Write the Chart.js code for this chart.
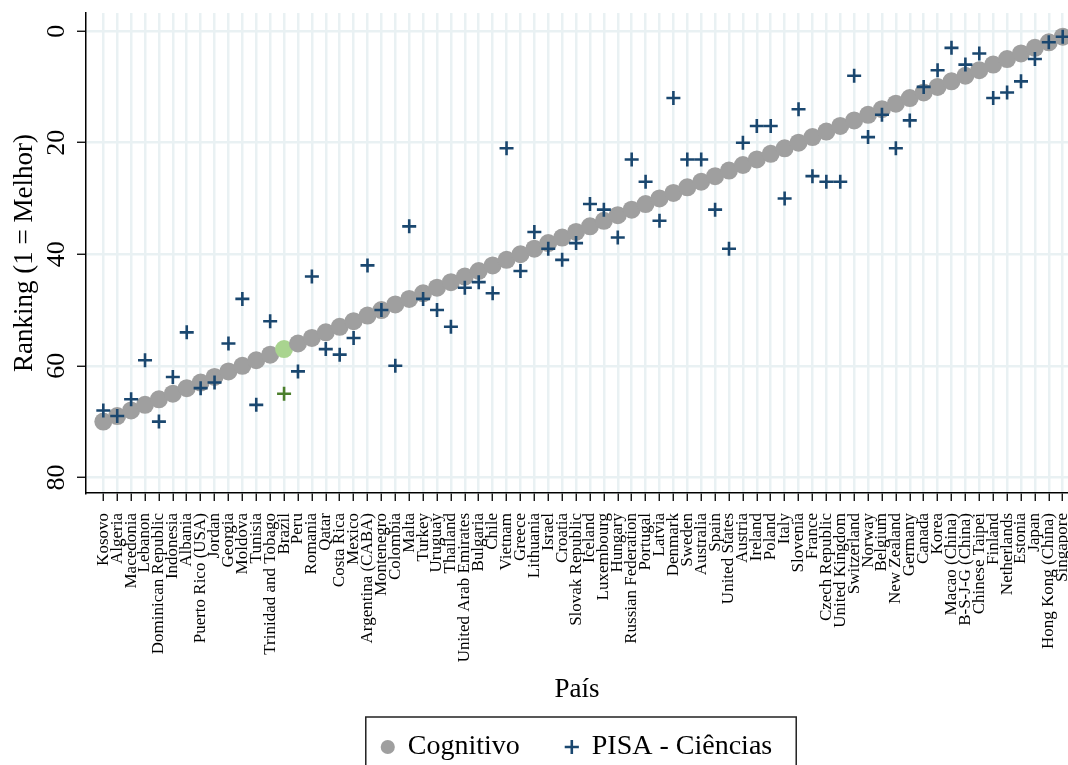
<!DOCTYPE html>
<html>
<head>
<meta charset="utf-8">
<script src="https://cdn.jsdelivr.net/npm/chart.js"></script>
<style>
  html, body { margin: 0; padding: 0; background: #fff; }
</style>
</head>
<body>
<canvas id="rankChart" width="1068" height="765"></canvas>
<script>
// paises ordenados do pior para o melhor no ranking cognitivo
const countries = [
    'Kosovo', 'Algeria', 'Macedonia', 'Lebanon', 'Dominican Republic', 'Indonesia', 'Albania',
    'Puerto Rico (USA)', 'Jordan', 'Georgia', 'Moldova', 'Tunisia', 'Trinidad and Tobago', 'Brazil',
    'Peru', 'Romania', 'Qatar', 'Costa Rica', 'Mexico', 'Argentina (CABA)', 'Montenegro', 'Colombia',
    'Malta', 'Turkey', 'Uruguay', 'Thailand', 'United Arab Emirates', 'Bulgaria', 'Chile', 'Vietnam',
    'Greece', 'Lithuania', 'Israel', 'Croatia', 'Slovak Republic', 'Iceland', 'Luxembourg', 'Hungary',
    'Russian Federation', 'Portugal', 'Latvia', 'Denmark', 'Sweden', 'Australia', 'Spain',
    'United States', 'Austria', 'Ireland', 'Poland', 'Italy', 'Slovenia', 'France', 'Czech Republic',
    'United Kingdom', 'Switzerland', 'Norway', 'Belgium', 'New Zealand', 'Germany', 'Canada', 'Korea',
    'Macao (China)', 'B-S-J-G (China)', 'Chinese Taipei', 'Finland', 'Netherlands', 'Estonia', 'Japan',
    'Hong Kong (China)', 'Singapore'
]
const cognitivo = [
    70, 69, 68, 67, 66, 65, 64, 63, 62, 61, 60, 59, 58, 57, 56, 55, 54, 53, 52, 51,
    50, 49, 48, 47, 46, 45, 44, 43, 42, 41, 40, 39, 38, 37, 36, 35, 34, 33, 32, 31,
    30, 29, 28, 27, 26, 25, 24, 23, 22, 21, 20, 19, 18, 17, 16, 15, 14, 13, 12, 11,
    10, 9, 8, 7, 6, 5, 4, 3, 2, 1
]
const pisa = [
    68, 69, 66, 59, 70, 62, 54, 64, 63, 56, 48, 67, 52, 65, 61, 44, 57, 58, 55, 42,
    50, 60, 35, 48, 50, 53, 46, 45, 47, 21, 43, 36, 39, 41, 38, 31, 32, 37, 23, 27,
    34, 12, 23, 23, 32, 39, 20, 17, 17, 30, 14, 26, 27, 27, 8, 19, 15, 21, 16, 10,
    7, 3, 6, 4, 12, 11, 9, 5, 2, 1
]
const yTicks = [0, 20, 40, 60, 80]
const highlight = 'Brazil'

const serif = 'Liberation Serif'
const gridColor = '#e9f1f3'

const cogColors = countries.map(c => c === highlight ? '#a9d48f' : '#9f9f9f')
const pisaColors = countries.map(c => c === highlight ? '#4b7f2c' : '#1a476f')

// sem folga automatica das escalas, a area do grafico fica fixa
const noScalePadding = (s) => {
    s.paddingTop = 0
    s.paddingBottom = 0
    s.paddingLeft = 0
    s.paddingRight = 0
}

// moldura da legenda, como no grafico original
const legendFrame = {
    id: 'legendFrame',
    afterDraw: (chart) => {
        const boxes = chart.legend.legendHitBoxes
        if (!boxes || !boxes.length) return
        const left = Math.min(...boxes.map(b => b.left)) - 16
        const right = Math.max(...boxes.map(b => b.left + b.width)) + 24
        const ctx = chart.ctx
        ctx.save()
        ctx.strokeStyle = '#222'
        ctx.lineWidth = 1.5
        ctx.strokeRect(left, chart.legend.top + 30, right - left, 100)
        ctx.restore()
    }
}

new Chart(document.getElementById('rankChart'), {
    type: 'scatter',
    data: {
        datasets: [{
            label: 'Cognitivo',
            data: cognitivo.map((v, i) => ({x: i, y: v})),
            pointStyle: 'circle',
            pointRadius: 9,
            pointBorderWidth: 0,
            pointBackgroundColor: cogColors,
            pointBorderColor: cogColors,
            backgroundColor: '#9f9f9f',
            borderColor: '#9f9f9f',
            order: 1
        }, {
            label: 'PISA - Ciências',
            data: pisa.map((v, i) => ({x: i, y: v})),
            pointStyle: 'cross',
            pointRadius: 7,
            pointBorderWidth: 2.6,
            pointBorderColor: pisaColors,
            backgroundColor: '#1a476f',
            borderColor: '#1a476f',
            order: 0
        }]
    },
    options: {
        responsive: false,
        animation: false,
        devicePixelRatio: 1,
        layout: { autoPadding: false, padding: { top: 13, right: 0, left: 0, bottom: -6 } },
        plugins: {
            tooltip: { enabled: false },
            legend: {
                position: 'bottom',
                fullSize: false,
                labels: {
                    usePointStyle: true,
                    boxWidth: 12,
                    boxHeight: 10,
                    padding: 46,
                    color: '#000',
                    font: { family: serif, size: 28 },
                    sort: (a, b) => a.datasetIndex - b.datasetIndex
                }
            }
        },
        scales: {
            x: {
                type: 'linear',
                min: -1.245,
                max: 69.38,
                afterBuildTicks: s => { s.ticks = countries.map((c, i) => ({value: i})) },
                afterFit: s => { s.height = 194; noScalePadding(s) },
                ticks: {
                    autoSkip: false,
                    minRotation: 90,
                    maxRotation: 90,
                    padding: 12,
                    color: '#000',
                    font: { family: serif, size: 17 },
                    callback: (v) => countries[v]
                },
                grid: { color: gridColor, lineWidth: 2.5, tickColor: '#000', tickWidth: 1.3, tickLength: 8 },
                border: { color: '#000', width: 1.5 },
                title: {
                    display: true,
                    text: 'País',
                    color: '#000',
                    font: { family: serif, size: 27 },
                    padding: { top: 0, bottom: -19 }
                }
            },
            y: {
                reverse: true,
                min: -3.25,
                max: 82.8,
                afterBuildTicks: s => { s.ticks = yTicks.map(v => ({value: v})) },
                afterFit: s => { s.width = 86; noScalePadding(s) },
                ticks: {
                    minRotation: 90,
                    maxRotation: 90,
                    crossAlign: 'center',
                    padding: 7,
                    color: '#000',
                    font: { family: serif, size: 26 }
                },
                grid: { color: gridColor, lineWidth: 2.5, tickColor: '#000', tickWidth: 1.3, tickLength: 9 },
                border: { color: '#000', width: 1.5 },
                title: {
                    display: true,
                    text: 'Ranking (1 = Melhor)',
                    color: '#000',
                    font: { family: serif, size: 27 },
                    padding: { top: 9, bottom: 0 }
                }
            }
        }
    },
    plugins: [legendFrame]
})
</script>
</body>
</html>
